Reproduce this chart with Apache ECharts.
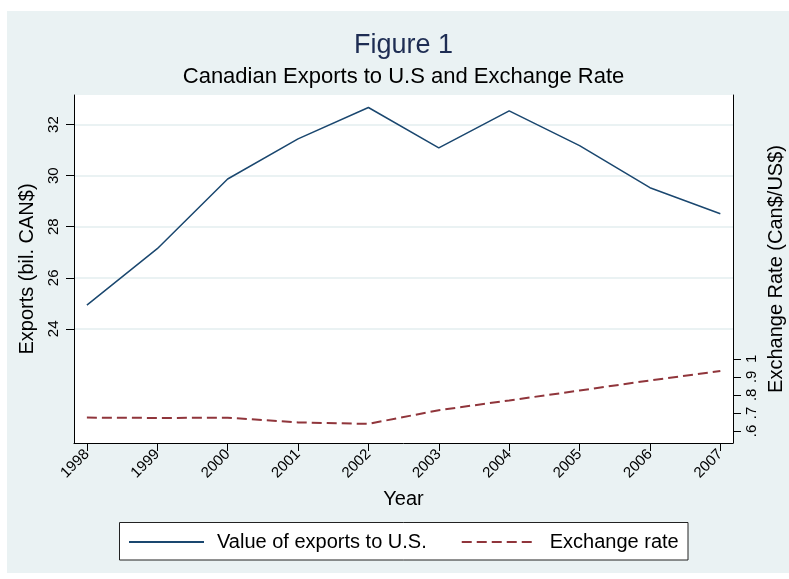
<!DOCTYPE html>
<html><head><meta charset="utf-8">
<script src="https://cdn.jsdelivr.net/npm/echarts@6/dist/echarts.min.js"></script>
<style>html,body{margin:0;padding:0;background:#fff}#c{width:789px;height:579px}</style>
</head><body><div id="c"></div>
<script>
const years = [1998, 1999, 2000, 2001, 2002, 2003, 2004, 2005, 2006, 2007];
const exportsValues = [24.93, 27.14, 29.87, 31.44, 32.67, 31.09, 32.54, 31.18, 29.53, 28.51];
const exchangeRate = [0.674, 0.672, 0.673, 0.647, 0.639, 0.715, 0.769, 0.824, 0.880, 0.932];
const leftTicks = [24, 26, 28, 30, 32];
const rightTicks = [0.6, 0.7, 0.8, 0.9, 1];
const rightTickLabels = ['.6', '.7', '.8', '.9', '1'];
const seriesNames = ['Value of exports to U.S.', 'Exchange rate'];

const FONT = '"Liberation Sans", Arial, Helvetica, sans-serif';
const chart = echarts.init(document.getElementById('c'), null, {renderer: 'canvas'});
const option = {
  backgroundColor: '#ffffff',
  animation: false,
  textStyle: {fontFamily: FONT},
  graphic: [
    {type: 'rect', silent: true, z: -10, shape: {x: 7, y: 11, width: 782, height: 562}, style: {fill: '#EAF2F3'}},
    {type: 'rect', silent: true, z: -5, shape: {x: 119.5, y: 522.5, width: 568.5, height: 37.5}, style: {fill: '#ffffff', stroke: '#222222', lineWidth: 1}},
    {type: 'text', x: 403.5, y: 32, style: {text: 'Figure 1', font: '27px ' + FONT, fill: '#1E2D53', textAlign: 'center', textVerticalAlign: 'top'}},
    {type: 'text', x: 403.5, y: 66, style: {text: 'Canadian Exports to U.S and Exchange Rate', font: '22px ' + FONT, fill: '#000000', textAlign: 'center', textVerticalAlign: 'top'}}
  ],
  grid: {left: 74, right: 56, top: 95, bottom: 136, show: true, backgroundColor: '#ffffff', borderWidth: 0, containLabel: false, outerBoundsMode: 'none'},
  legend: {
    left: 128, top: 532, padding: 0, itemWidth: 75, itemHeight: 14, itemGap: 34,
    itemStyle: {color: 'transparent', borderWidth: 0, opacity: 0},
    textStyle: {fontSize: 20, color: '#000', fontFamily: FONT, padding: [0, 0, 0, 8]},
    data: seriesNames
  },
  xAxis: {
    type: 'value', min: 1997.817, max: 2007.18,
    name: 'Year', nameLocation: 'middle', nameGap: 46,
    nameTextStyle: {fontSize: 20, color: '#000', fontFamily: FONT},
    axisLine: {show: true, onZero: false, lineStyle: {color: '#000', width: 1}},
    axisTick: {show: true, length: 8, customValues: years, lineStyle: {color: '#000'}},
    axisLabel: {customValues: years, rotate: 45, fontSize: 15, color: '#000', margin: 9, formatter: v => String(v)},
    splitLine: {show: false}
  },
  yAxis: [
    {
      type: 'value', position: 'left', min: 19.53, max: 33.16,
      name: 'Exports (bil. CAN$)', nameLocation: 'middle', nameRotate: 90, nameGap: 37,
      nameTextStyle: {fontSize: 20, color: '#000', fontFamily: FONT},
      axisLine: {show: true, lineStyle: {color: '#000', width: 1}},
      axisTick: {show: true, length: 8, customValues: leftTicks, lineStyle: {color: '#000'}},
      axisLabel: {customValues: leftTicks, rotate: 90, fontSize: 15, color: '#000', margin: 13, formatter: v => String(v)},
      splitLine: {show: true, lineStyle: {color: '#EAF2F3', width: 2}}
    },
    {
      type: 'value', position: 'right', min: 0.533, max: 2.463,
      name: 'Exchange Rate (Can$/US$)', nameLocation: 'middle', nameRotate: 90, nameGap: 26,
      nameTextStyle: {fontSize: 20, color: '#000', fontFamily: FONT},
      axisLine: {show: true, lineStyle: {color: '#000', width: 1}},
      axisTick: {show: true, length: 8, customValues: rightTicks, lineStyle: {color: '#000'}},
      axisLabel: {customValues: rightTicks, rotate: 90, fontSize: 15, color: '#000', margin: 11,
        formatter: v => { const i = rightTicks.findIndex(t => Math.abs(t - v) < 1e-9); return i >= 0 ? rightTickLabels[i] : ''; }},
      splitLine: {show: false}
    }
  ],
  series: [
    {
      name: seriesNames[0], type: 'line', yAxisIndex: 0, symbol: 'none',
      data: years.map((y, i) => [y, exportsValues[i]]),
      lineStyle: {color: '#1A476F', width: 1.5}, itemStyle: {color: '#1A476F'}
    },
    {
      name: seriesNames[1], type: 'line', yAxisIndex: 1, symbol: 'none',
      data: years.map((y, i) => [y, exchangeRate[i]]),
      lineStyle: {color: '#90353B', width: 2, type: [10, 5]}, itemStyle: {color: '#90353B'}
    }
  ]
};
chart.setOption(option);
</script></body></html>
